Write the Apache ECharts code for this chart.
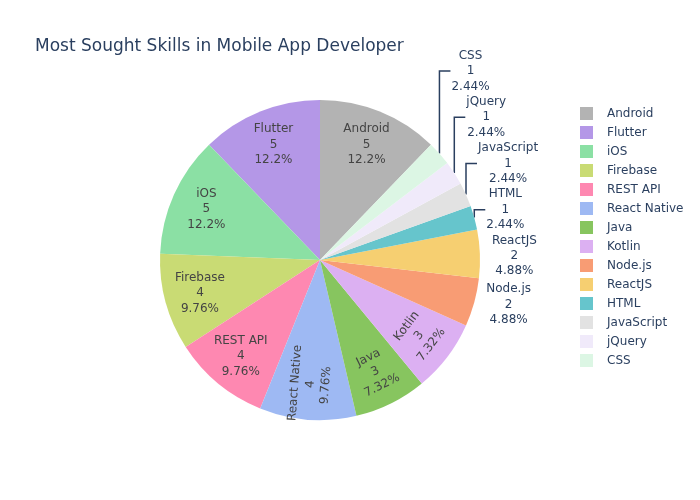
<!DOCTYPE html>
<html>
<head>
<meta charset="utf-8">
<script src="https://cdn.jsdelivr.net/npm/echarts@6/dist/echarts.min.js"></script>
<style>
  html, body { margin: 0; padding: 0; background: #fff; }
  #main { width: 700px; height: 500px; }
</style>
</head>
<body>
<div id="main"></div>
<script>
// skills and how often each one was asked for
var skills = ['Android', 'Flutter', 'iOS', 'Firebase', 'REST API', 'React Native', 'Java',
  'Kotlin', 'Node.js', 'ReactJS', 'HTML', 'JavaScript', 'jQuery', 'CSS'];
var counts = [5, 5, 5, 4, 4, 4, 3, 3, 2, 2, 1, 1, 1, 1];

var colors = ['#b3b3b3', '#b497e7', '#8be0a4', '#c9db74', '#fe88b1', '#9eb9f3', '#87c55f',
  '#dcb0f2', '#f89c74', '#f6cf71', '#66c5cc', '#e2e2e2', '#f0eafa', '#dcf6e4'];
// slices whose inside text is turned
var rotateMode = { 'React Native': 'radial', 'Java': 'tangential', 'Kotlin': 'tangential' };

var font = 'DejaVu Sans';
var cx = 320, cy = 260, R = 160;
var total = counts.reduce(function (a, b) { return a + b; }, 0);
var start = 90 - 360 * counts[0] / total; // first slice ends at 12 o'clock

// middle angle of every slice (counter clockwise from start)
var midAngles = [];
var acc = start;
counts.forEach(function (v) {
  var a = 360 * v / total;
  midAngles.push(acc + a / 2);
  acc += a;
});
var firstOutside = counts.findIndex(function (v) { return v < 3; });

function pct(v) {
  return (v / total * 100).toPrecision(3) + '%';
}

var sliceData = skills.map(function (name, i) {
  return { name: name, value: counts[i], itemStyle: { color: colors[i] } };
});

var labelData = skills.map(function (name, i) {
  var v = counts[i];
  var item = { name: name, value: v };
  if (v >= 3) {
    item.label = { position: 'inside', color: '#444', rotate: rotateMode[name] || 0 };
    item.labelLine = { show: false };
  } else if (v == 2) {
    item.label = { position: 'outside' };
    item.labelLine = { show: false, length: 4, length2: 4 };
  } else {
    item.label = { position: 'outside' };
    item.labelLine = { show: true, length: 12, length2: 8 };
  }
  return item;
});

var stackTop = Infinity;

var chart = echarts.init(document.getElementById('main'));
chart.setOption({
  animation: false,
  title: {
    text: 'Most Sought Skills in Mobile App Developer',
    left: 30,
    top: 33,
    textStyle: { fontFamily: font, fontSize: 17, fontWeight: 'normal', color: '#2a3f5f' }
  },
  legend: {
    orient: 'vertical',
    left: 575,
    top: 102,
    icon: 'rect',
    itemWidth: 13,
    itemHeight: 13,
    itemGap: 6,
    data: skills,
    textStyle: { fontFamily: font, fontSize: 12, color: '#2a3f5f', padding: [0, 0, 0, 9] }
  },
  series: [
    {
      type: 'pie',
      center: [cx, cy],
      radius: [0, R],
      startAngle: start,
      clockwise: false,
      data: sliceData,
      label: { show: false },
      labelLine: { show: false },
      emphasis: { disabled: true },
      silent: true
    },
    {
      // transparent ring that only carries the labels
      type: 'pie',
      center: [cx, cy],
      radius: [83, R],
      startAngle: start,
      clockwise: false,
      data: labelData,
      silent: true,
      emphasis: { disabled: true },
      itemStyle: { color: 'rgba(0,0,0,0)' },
      label: {
        fontFamily: font,
        fontSize: 12,
        lineHeight: 15.4,
        color: '#2a3f5f',
        formatter: function (p) {
          return p.name + '\n' + p.value + '\n' + pct(p.value);
        }
      },
      labelLine: { lineStyle: { color: '#2a3f5f', width: 1.5 } },
      // outside labels sit right of the slice edge and are pushed up so they don't overlap
      labelLayout: function (p) {
        var i = p.dataIndex;
        var v = counts[i];
        if (v >= 3) return {};
        if (i == firstOutside) stackTop = Infinity;
        var a = midAngles[i] * Math.PI / 180;
        var ex = cx + R * Math.cos(a);
        var ey = cy - R * Math.sin(a);
        var h = p.labelRect.height, w = p.labelRect.width;
        var ly = Math.min(ey, stackTop - h / 2);
        stackTop = ly - h / 2;
        var left = ex + 12;
        var out = { x: left + w / 2, y: ly + 2, align: 'center', verticalAlign: 'middle' };
        if (v == 1) out.labelLinePoints = [[ex, ey], [ex, ly + 2], [left - 1, ly + 2]];
        return out;
      }
    }
  ]
});
</script>
</body>
</html>
